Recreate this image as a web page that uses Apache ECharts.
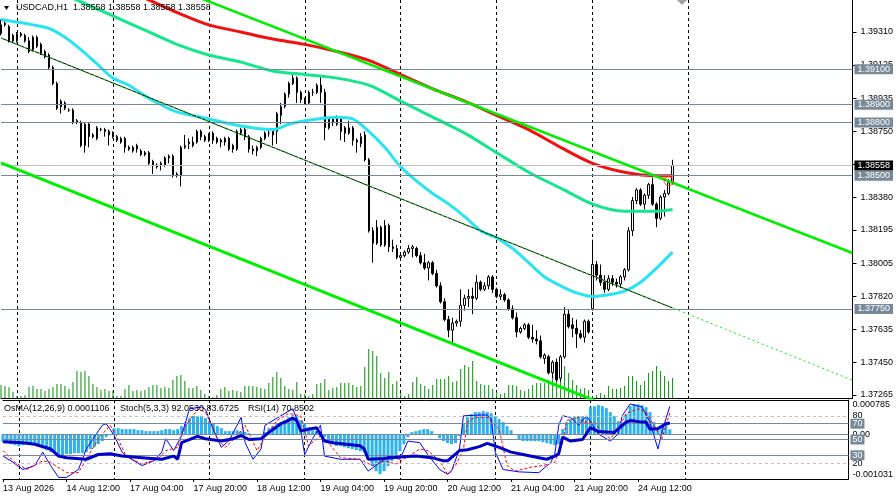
<!DOCTYPE html>
<html><head><meta charset="utf-8">
<script src="https://cdn.jsdelivr.net/npm/echarts@6/dist/echarts.min.js"></script>
<style>html,body{margin:0;padding:0;background:#fff}#c{width:896px;height:502px}</style>
</head><body><div id="c"></div>
<script>
// ---------- data ----------
const dayNames = ['13 Aug','14 Aug','17 Aug','18 Aug','19 Aug','20 Aug','21 Aug','24 Aug','25 Aug','26 Aug'];
const timeTickLabels = ['13 Aug 2026','14 Aug 12:00','17 Aug 04:00','17 Aug 20:00','18 Aug 12:00','19 Aug 04:00','19 Aug 20:00','20 Aug 12:00','21 Aug 04:00','21 Aug 20:00','24 Aug 12:00'];
const dayLineIdx = [4,28,52,76,100,124,148,172];
const priceTicks = [1.37265,1.37450,1.37635,1.37820,1.38005,1.38195,1.38380,1.38565,1.38750,1.38935,1.39125,1.39310];
const priceMin = 1.37248, priceMax = 1.39490;
const levelPrices = [1.39100,1.38900,1.38800,1.38500,1.37750];
const lastPrice = 1.38558;
const osmaMin = -0.001031, osmaMax = 0.000785;
const stochLevelsDashed = [80,20];
const stochLevelsSolid = [70,50,30];

// candles: [open, close, low, high]
const candles = [
[1.3930,1.3935,1.3929,1.3938],[1.3935,1.3936,1.3934,1.3938],[1.3934,1.3926,1.3925,1.3935],[1.3929,1.3926,1.3925,1.3930],[1.3926,1.3930,1.3925,1.3931],
[1.3929,1.3930,1.3928,1.3931],[1.3929,1.3926,1.3925,1.3930],[1.3926,1.3920,1.3919,1.3928],[1.3921,1.3928,1.3920,1.3929],[1.3928,1.3923,1.3922,1.3929],
[1.3924,1.3919,1.3918,1.3925],[1.3920,1.3917,1.3916,1.3921],[1.3918,1.3911,1.3910,1.3919],[1.3911,1.3902,1.3901,1.3912],[1.3902,1.3888,1.3887,1.3903],
[1.3889,1.3892,1.3885,1.3893],[1.3891,1.3888,1.3887,1.3892],[1.3887,1.3887,1.3886,1.3888],[1.3887,1.3880,1.3879,1.3888],[1.3880,1.3881,1.3879,1.3882],
[1.3880,1.3867,1.3866,1.3881],[1.3867,1.3879,1.3863,1.3880],[1.3879,1.3872,1.3866,1.3880],[1.3873,1.3872,1.3871,1.3874],[1.3871,1.3877,1.3870,1.3878],
[1.3876,1.3876,1.3875,1.3877],[1.3876,1.3875,1.3872,1.3877],[1.3875,1.3873,1.3867,1.3876],[1.3874,1.3872,1.3871,1.3875],[1.3872,1.3870,1.3869,1.3873],
[1.3869,1.3871,1.3868,1.3872],[1.3871,1.3866,1.3863,1.3872],[1.3866,1.3865,1.3864,1.3867],[1.3864,1.3866,1.3863,1.3867],[1.3865,1.3867,1.3863,1.3868],
[1.3864,1.3862,1.3861,1.3865],[1.3863,1.3862,1.3861,1.3864],[1.3863,1.3857,1.3856,1.3864],[1.3858,1.3856,1.3851,1.3859],[1.3855,1.3856,1.3854,1.3857],
[1.3856,1.3857,1.3853,1.3858],[1.3856,1.3860,1.3855,1.3861],[1.3860,1.3861,1.3857,1.3862],[1.3861,1.3850,1.3849,1.3862],[1.3850,1.3851,1.3849,1.3852],
[1.3850,1.3866,1.3844,1.3867],[1.3866,1.3867,1.3865,1.3873],[1.3868,1.3869,1.3865,1.3871],[1.3867,1.3869,1.3866,1.3872],[1.3869,1.3875,1.3868,1.3876],
[1.3875,1.3872,1.3870,1.3876],[1.3872,1.3870,1.3869,1.3873],[1.3870,1.3873,1.3869,1.3874],[1.3870,1.3874,1.3868,1.3875],[1.3871,1.3869,1.3868,1.3872],
[1.3870,1.3869,1.3866,1.3871],[1.3869,1.3871,1.3867,1.3872],[1.3871,1.3865,1.3864,1.3872],[1.3867,1.3865,1.3863,1.3868],[1.3865,1.3875,1.3864,1.3876],
[1.3874,1.3876,1.3873,1.3877],[1.3876,1.3872,1.3870,1.3878],[1.3872,1.3865,1.3863,1.3873],[1.3865,1.3864,1.3862,1.3867],[1.3864,1.3866,1.3861,1.3867],
[1.3866,1.3871,1.3865,1.3872],[1.3871,1.3874,1.3870,1.3875],[1.3874,1.3874,1.3872,1.3876],[1.3873,1.3875,1.3867,1.3876],[1.3875,1.3885,1.3868,1.3886],
[1.3884,1.3889,1.3879,1.3891],[1.3889,1.3896,1.3888,1.3897],[1.3896,1.3902,1.3894,1.3903],[1.3902,1.3905,1.3901,1.3907],[1.3905,1.3897,1.3891,1.3906],
[1.3897,1.3893,1.3891,1.3898],[1.3893,1.3891,1.3890,1.3894],[1.3891,1.3897,1.3890,1.3898],[1.3897,1.3897,1.3895,1.3899],[1.3897,1.3901,1.3896,1.3902],
[1.3901,1.3897,1.3891,1.3906],[1.3897,1.3877,1.3870,1.3899],[1.3877,1.3882,1.3876,1.3883],[1.3882,1.3880,1.3878,1.3883],[1.3879,1.3882,1.3878,1.3884],
[1.3882,1.3875,1.3870,1.3883],[1.3877,1.3874,1.3869,1.3878],[1.3874,1.3877,1.3873,1.3881],[1.3877,1.3870,1.3867,1.3878],[1.3870,1.3869,1.3863,1.3871],
[1.3868,1.3872,1.3866,1.3874],[1.3873,1.3859,1.3858,1.3875],[1.3859,1.3819,1.3818,1.3860],[1.3819,1.3812,1.3801,1.3821],[1.3812,1.3821,1.3811,1.3825],
[1.3821,1.3811,1.3810,1.3822],[1.3811,1.3822,1.3810,1.3825],[1.3822,1.3810,1.3807,1.3823],[1.3810,1.3809,1.3807,1.3814],[1.3809,1.3804,1.3803,1.3811],
[1.3804,1.3805,1.3802,1.3807],[1.3805,1.3807,1.3804,1.3808],[1.3807,1.3809,1.3806,1.3811],[1.3809,1.3810,1.3804,1.3811],[1.3809,1.3805,1.3804,1.3810],
[1.3805,1.3801,1.3800,1.3807],[1.3801,1.3798,1.3797,1.3806],[1.3798,1.3801,1.3791,1.3802],[1.3801,1.3795,1.3794,1.3802],[1.3795,1.3788,1.3787,1.3797],
[1.3788,1.3779,1.3778,1.3790],[1.3779,1.3769,1.3768,1.3781],[1.3769,1.3763,1.3759,1.3771],[1.3763,1.3767,1.3756,1.3770],[1.3767,1.3768,1.3765,1.3769],
[1.3768,1.3777,1.3765,1.3786],[1.3777,1.3781,1.3774,1.3783],[1.3781,1.3782,1.3776,1.3786],[1.3782,1.3781,1.3772,1.3787],[1.3781,1.3790,1.3780,1.3794],
[1.3790,1.3786,1.3785,1.3791],[1.3786,1.3788,1.3785,1.3790],[1.3788,1.3793,1.3786,1.3794],[1.3793,1.3786,1.3784,1.3794],[1.3786,1.3782,1.3781,1.3787],
[1.3782,1.3783,1.3780,1.3786],[1.3783,1.3780,1.3779,1.3784],[1.3780,1.3775,1.3774,1.3781],[1.3775,1.3770,1.3769,1.3777],[1.3770,1.3762,1.3759,1.3773],
[1.3762,1.3764,1.3761,1.3765],[1.3764,1.3766,1.3763,1.3767],[1.3766,1.3759,1.3758,1.3767],[1.3759,1.3758,1.3756,1.3766],[1.3758,1.3757,1.3755,1.3763],
[1.3757,1.3748,1.3747,1.3760],[1.3747,1.3749,1.3744,1.3750],[1.3748,1.3739,1.3738,1.3749],[1.3739,1.3745,1.3736,1.3746],[1.3745,1.3735,1.3734,1.3747],
[1.3736,1.3748,1.3734,1.3749],[1.3748,1.3772,1.3747,1.3776],[1.3772,1.3765,1.3764,1.3775],[1.3766,1.3764,1.3759,1.3770],[1.3764,1.3761,1.3753,1.3769],
[1.3761,1.3759,1.3758,1.3763],[1.3759,1.3768,1.3756,1.3769],[1.3768,1.3762,1.3761,1.3769],[1.3775,1.3800,1.3774,1.3814],[1.3800,1.3794,1.3791,1.3802],
[1.3794,1.3790,1.3788,1.3800],[1.3790,1.3786,1.3784,1.3794],[1.3786,1.3792,1.3785,1.3794],[1.3792,1.3790,1.3788,1.3794],[1.3790,1.3789,1.3787,1.3792],
[1.3789,1.3793,1.3787,1.3794],[1.3793,1.3797,1.3791,1.3798],[1.3797,1.3819,1.3796,1.3821],[1.3819,1.3836,1.3816,1.3838],[1.3836,1.3842,1.3834,1.3843],
[1.3842,1.3834,1.3833,1.3843],[1.3834,1.3839,1.3831,1.3840],[1.3839,1.3845,1.3837,1.3846],[1.3845,1.3834,1.3833,1.3849],[1.3834,1.3826,1.3821,1.3835],
[1.3826,1.3838,1.3825,1.3839],[1.3838,1.3840,1.3827,1.3842],[1.3840,1.3846,1.3839,1.3848],[1.3846,1.38558,1.3845,1.3859]
];

// tick volume (hundreds of ticks)
const volumes = [13,12,11,6,2,2,3,11,12,9, 9,7,9,11,14,14,12,9,16,27, 26,27,22,14,11,8,9,7,7,2, 2,9,13,7,8,7,8,11,13,13,
 10,11,10,18,22,23,17,10,10,12, 8,4,2,1,3,9,11,7,8,7, 6,12,12,12,11,10,9,15,21,26, 20,12,9,8,16,4,4,2,4,14,
 15,19,8,10,11,15,15,15,13,11, 12,31,49,47,42,25,20,26,14,17, 5,2,4,16,21,14,12,9,13,19, 19,19,22,16,17,29,33,31,37,17,
 14,13,13,9,6,4,5,13,13,12, 8,7,9,13,15,15,15,18,22,22, 27,32,25,18,13,9,10,8,2,3, 5,3,12,9,9,10,12,22,22,17,
 13,17,25,27,32,27,22,17,20];
const volumeAxisMax = 398;

// moving averages [bar, price]
const maRed = [[20,1.3964],[28,1.3957],[36,1.3950],[44,1.3942],[52,1.3935],[60,1.3931],[68,1.3927],[76,1.3924],[84,1.3920],[92,1.3915],[100,1.3907],[108,1.3899],[116,1.3892],[124,1.3884],[132,1.3876],[140,1.3866],[148,1.3857],[156,1.3852],[164,1.3850],[168,1.3850]];
const maGreen = [[12,1.3956],[20,1.3948],[28,1.3940],[36,1.3932],[44,1.3924],[52,1.3918],[60,1.3914],[68,1.3909],[76,1.3907],[84,1.3905],[92,1.3901],[100,1.3892],[108,1.3883],[116,1.3874],[124,1.3863],[132,1.3852],[140,1.3843],[148,1.3834],[156,1.3830],[164,1.3830],[168,1.3831]];
const maCyan = [[0,1.3938],[8,1.3935],[12,1.3933],[16,1.3928],[20,1.3921],[24,1.3913],[28,1.3905],[32,1.3901],[36,1.3895],[40,1.3890],[44,1.3886],[52,1.3882],[60,1.3878],[68,1.3876],[72,1.3879],[76,1.3881],[84,1.3883],[88,1.3882],[92,1.3875],[96,1.3866],[100,1.3855],[104,1.3847],[108,1.3840],[112,1.3834],[116,1.3827],[120,1.3819],[124,1.3815],[128,1.3809],[132,1.3801],[136,1.3793],[140,1.3788],[144,1.3784],[148,1.3782],[152,1.3783],[156,1.3785],[160,1.3790],[164,1.3798],[168,1.3807]];

// trend lines [bar, price]
const trendUpper = [[0,1.39939],[213,1.38065]];
const trendLower = [[0,1.38572],[213,1.36652]];
const trendMidSolid = [[0,1.39276],[168,1.37755]];
const trendMidDotted = [[0,1.39276],[213,1.37348]];
const circleMark = [[167,1.3847]];

// OsMA(12,26,9)
const osma = [
-1.84e-4,-2.07e-4,-2.30e-4,-2.53e-4,-2.76e-4,-2.53e-4,-2.30e-4,-2.30e-4,-2.53e-4,-2.76e-4,
-3.22e-4,-3.68e-4,-4.14e-4,-4.37e-4,-4.83e-4,-4.83e-4,-4.60e-4,-4.60e-4,-4.37e-4,-4.37e-4,
-4.37e-4,-4.14e-4,-3.45e-4,-2.99e-4,-2.30e-4,-1.61e-4,-0.69e-4,-0.23e-4,1.38e-4,1.38e-4,
1.15e-4,1.15e-4,1.15e-4,1.15e-4,0.92e-4,0.92e-4,0.69e-4,0.69e-4,0.69e-4,0.69e-4,
0.92e-4,1.15e-4,1.15e-4,0.92e-4,1.15e-4,1.84e-4,2.76e-4,3.68e-4,4.14e-4,4.14e-4,
4.14e-4,3.68e-4,2.99e-4,2.53e-4,1.84e-4,1.38e-4,0.69e-4,0.69e-4,0.69e-4,0.92e-4,
0.69e-4,0.46e-4,0.23e-4,0.05e-4,-0.23e-4,0.05e-4,0.46e-4,1.38e-4,1.84e-4,2.30e-4,
2.76e-4,3.22e-4,3.91e-4,4.37e-4,4.14e-4,3.22e-4,2.30e-4,1.61e-4,0.92e-4,0.69e-4,
0.46e-4,-0.69e-4,-1.84e-4,-2.30e-4,-2.76e-4,-2.76e-4,-2.99e-4,-3.22e-4,-3.45e-4,-3.68e-4,
-3.91e-4,-4.14e-4,-5.29e-4,-7.36e-4,-8.51e-4,-9.20e-4,-8.51e-4,-7.36e-4,-6.21e-4,-5.06e-4,
-3.91e-4,-2.30e-4,-0.69e-4,0.46e-4,0.69e-4,0.92e-4,1.15e-4,1.15e-4,0.69e-4,0.05e-4,
-0.92e-4,-1.61e-4,-2.07e-4,-2.30e-4,-2.07e-4,-0.46e-4,2.30e-4,3.91e-4,4.60e-4,5.06e-4,
5.06e-4,5.29e-4,5.06e-4,4.83e-4,4.14e-4,3.45e-4,2.76e-4,1.84e-4,0.92e-4,-0.23e-4,
-1.15e-4,-1.61e-4,-1.61e-4,-1.61e-4,-1.61e-4,-1.61e-4,-1.84e-4,-2.07e-4,-2.30e-4,-2.53e-4,
-2.30e-4,1.15e-4,2.76e-4,3.45e-4,3.91e-4,4.14e-4,4.14e-4,4.14e-4,6.21e-4,6.44e-4,
6.67e-4,6.44e-4,5.98e-4,5.06e-4,4.14e-4,2.99e-4,2.76e-4,4.60e-4,6.44e-4,6.90e-4,
6.90e-4,6.67e-4,6.21e-4,5.06e-4,2.76e-4,1.15e-4,1.84e-4,2.30e-4,1.106e-4];

// Stochastic(5,3,3) and RSI(14) [bar, value]
const stochMain = [[0,29],[2,23],[5,12],[8,17],[10,34],[12,17],[14,2],[16,2],[19,12],[21,38],[25,68],[26,70],[28,55],[30,34],[31,29],[35,17],[38,23],[40,34],[41,51],[43,36],[45,55],[46,72],[47,89],[50,91],[51,88],[53,63],[55,40],[57,49],[60,78],[61,46],[63,25],[65,38],[66,68],[70,80],[73,89],[75,63],[76,31],[78,51],[80,68],[81,29],[85,25],[90,25],[92,10],[95,21],[97,29],[100,25],[102,48],[105,46],[107,31],[110,12],[112,6],[113,10],[115,38],[116,80],[120,81],[122,81],[123,76],[124,34],[126,12],[130,9],[135,8],[138,21],[139,31],[140,68],[141,80],[143,78],[145,68],[147,80],[150,57],[153,48],[155,57],[156,80],[158,95],[161,91],[163,72],[165,38],[166,59],[167,76],[168,92.0530]];
const stochSignal = [[0,36],[3,21],[6,12],[10,23],[12,21],[16,8],[19,8],[21,25],[24,51],[27,68],[29,51],[31,29],[35,19],[39,25],[41,36],[44,40],[46,68],[49,88],[51,85],[54,51],[56,40],[59,55],[61,68],[64,36],[66,53],[69,74],[72,83],[75,80],[77,42],[80,55],[82,46],[85,27],[90,25],[93,17],[96,23],[99,19],[101,25],[105,38],[107,36],[110,23],[112,6],[114,17],[116,38],[117,72],[119,78],[122,78],[125,63],[127,17],[129,10],[133,15],[136,17],[139,21],[141,46],[142,74],[145,78],[146,72],[149,72],[151,59],[153,51],[155,63],[157,83],[160,89],[162,85],[165,59],[166,51],[168,83.6725]];
const rsi = [[0,47],[5,46],[8,44],[12,38],[14,29],[16,27],[21,25],[24,31],[27,32],[30,29],[35,27],[40,25],[43,29],[44,25],[45,46],[49,54],[51,51],[55,48],[58,51],[60,55],[62,50],[65,51],[67,59],[70,70],[71,72],[73,77],[74,74],[75,61],[77,63],[79,65],[81,48],[83,46],[90,42],[91,38],[92,25],[96,26],[100,28],[104,29],[108,27],[111,23],[112,23],[115,36],[117,37],[120,41],[122,45],[125,40],[128,34],[131,31],[135,27],[137,25],[139,29],[140,32],[141,53],[143,48],[146,50],[148,65],[150,60],[154,59],[157,72],[158,74],[161,72],[162,72],[163,63],[165,64],[167,70],[168,70.8502]];

// ---------- categories (hourly bars, weekend skipped) ----------
const cats = [];
dayNames.forEach((d, k) => { for (let h = (k === 0 ? 20 : 0); h < 24; h++) cats.push(d + ' ' + String(h).padStart(2, '0') + ':00'); });
cats.length = 214;

const FONT = '"Liberation Sans", Arial, sans-serif';
const tickFn = (i) => i % 16 === 0 && i <= 160;
const dayFn = (i) => dayLineIdx.indexOf(i) >= 0;
const dashed = { show: true, interval: dayFn, lineStyle: { color: '#000', type: [3, 3], width: 1 } };
const axisBlack = { show: true, onZero: false, lineStyle: { color: '#000', width: 1 } };
const lbl = { color: '#000', fontSize: 9, fontFamily: FONT };

const chart = echarts.init(document.getElementById('c'), null, { renderer: 'canvas' });
const last = candles[candles.length - 1];
chart.setOption({
  animation: false,
  backgroundColor: '#fff',
  textStyle: { fontFamily: FONT },
  grid: [
    { left: 1, right: 43, top: 0, height: 398 },
    { left: 1, right: 43, top: 400, height: 79 }
  ],
  xAxis: [
    { gridIndex: 0, type: 'category', data: cats, boundaryGap: false, axisLine: axisBlack, axisTick: { show: false }, axisLabel: { show: false }, splitLine: dashed },
    { gridIndex: 1, type: 'category', data: cats, boundaryGap: false, axisLine: axisBlack,
      axisTick: { show: true, interval: tickFn, length: 3, lineStyle: { color: '#000' } },
      axisLabel: Object.assign({ show: true, interval: tickFn, align: 'left', margin: 5, formatter: (v, i) => timeTickLabels[i / 16] }, lbl),
      splitLine: dashed },
    { gridIndex: 1, type: 'category', data: cats, boundaryGap: false, position: 'top', axisLine: axisBlack, axisTick: { show: false }, axisLabel: { show: false }, splitLine: { show: false } }
  ],
  yAxis: [
    { gridIndex: 0, type: 'value', position: 'right', min: priceMin, max: priceMax, axisLine: axisBlack,
      axisTick: { show: true, customValues: priceTicks, length: 4, lineStyle: { color: '#000' } },
      axisLabel: Object.assign({ customValues: priceTicks, margin: 8, formatter: v => v.toFixed(5) }, lbl),
      splitLine: { show: false } },
    { gridIndex: 0, type: 'value', min: 0, max: volumeAxisMax, show: false },
    { gridIndex: 1, type: 'value', position: 'right', min: 0, max: 100, axisLine: axisBlack, axisTick: { show: false },
      axisLabel: Object.assign({ customValues: stochLevelsDashed, margin: 4 }, lbl), splitLine: { show: false } },
    { gridIndex: 1, type: 'value', position: 'right', min: osmaMin, max: osmaMax, axisLine: { show: false }, axisTick: { show: false },
      axisLabel: Object.assign({ customValues: [0], margin: 4, formatter: () => '0.00' }, lbl), splitLine: { show: false } },
    { gridIndex: 1, type: 'value', position: 'right', min: osmaMin, max: osmaMax, axisLine: { show: false }, axisTick: { show: false },
      axisLabel: Object.assign({ customValues: [osmaMax], margin: 4, verticalAlign: 'top', formatter: v => v.toFixed(6) }, lbl), splitLine: { show: false } },
    { gridIndex: 1, type: 'value', position: 'right', min: osmaMin, max: osmaMax, axisLine: { show: false }, axisTick: { show: false },
      axisLabel: Object.assign({ customValues: [osmaMin], margin: 4, verticalAlign: 'bottom', formatter: v => v.toFixed(6) }, lbl), splitLine: { show: false } }
  ],
  series: [
    { type: 'bar', name: 'Volume', xAxisIndex: 0, yAxisIndex: 1, data: volumes, barWidth: 1, itemStyle: { color: '#0b8a0b' }, silent: true, z: 1 },
    { type: 'candlestick', name: 'USDCAD', xAxisIndex: 0, yAxisIndex: 0, data: candles, barWidth: 2, z: 3,
      itemStyle: { color: '#fff', color0: '#000', borderColor: '#000', borderColor0: '#000', borderWidth: 1 },
      markLine: {
        silent: true, symbol: 'none', animation: false, precision: 5,
        label: { show: true, position: 'end', formatter: p => p.name, color: '#fff', fontSize: 9, fontFamily: FONT, padding: [1, 3, 0, 3], distance: 2 },
        data: levelPrices.map(v => ({ name: v.toFixed(5), yAxis: v, lineStyle: { color: '#778899', width: 1, type: 'solid' }, label: { backgroundColor: '#778899' } }))
          .concat([{ name: lastPrice.toFixed(5), yAxis: lastPrice, lineStyle: { color: '#c0c0c0', width: 1, type: 'solid' }, label: { backgroundColor: '#000' } }])
      } },
    { type: 'line', name: 'MA red', xAxisIndex: 0, yAxisIndex: 0, data: maRed, smooth: 0.3, showSymbol: false, lineStyle: { color: '#f01010', width: 3 }, z: 4 },
    { type: 'line', name: 'MA green', xAxisIndex: 0, yAxisIndex: 0, data: maGreen, smooth: 0.3, showSymbol: false, lineStyle: { color: '#14e68c', width: 3 }, z: 4 },
    { type: 'line', name: 'MA cyan', xAxisIndex: 0, yAxisIndex: 0, data: maCyan, smooth: 0.3, showSymbol: false, lineStyle: { color: '#28e4f0', width: 3 }, z: 4 },
    { type: 'line', name: 'Trend upper', xAxisIndex: 0, yAxisIndex: 0, data: trendUpper, showSymbol: false, lineStyle: { color: '#00ee00', width: 2.5 }, z: 5 },
    { type: 'line', name: 'Trend lower', xAxisIndex: 0, yAxisIndex: 0, data: trendLower, showSymbol: false, lineStyle: { color: '#00ee00', width: 3 }, z: 5 },
    { type: 'line', name: 'Trend mid', xAxisIndex: 0, yAxisIndex: 0, data: trendMidSolid, showSymbol: false, lineStyle: { color: '#000', width: 1 }, z: 5 },
    { type: 'line', name: 'Trend mid dotted', xAxisIndex: 0, yAxisIndex: 0, data: trendMidDotted, showSymbol: false, lineStyle: { color: '#00ee00', width: 1, type: [2, 3] }, z: 6 },
    { type: 'scatter', name: 'Mark', xAxisIndex: 0, yAxisIndex: 0, data: circleMark, symbol: 'circle', symbolSize: 9, itemStyle: { color: 'rgba(0,0,0,0)', borderColor: '#ff2020', borderWidth: 1 }, z: 7 },
    { type: 'bar', name: 'OsMA', xAxisIndex: 1, yAxisIndex: 3, data: osma, barWidth: 3, itemStyle: { color: '#2ab3f0' }, z: 2,
      markLine: { silent: true, symbol: 'none', animation: false, label: { show: false }, data: [{ yAxis: 0, lineStyle: { color: '#778899', width: 1, type: 'solid' } }] } },
    { type: 'line', name: 'Stoch', xAxisIndex: 1, yAxisIndex: 2, data: stochMain, showSymbol: false, lineStyle: { color: '#0000ff', width: 1 }, z: 4,
      markLine: { silent: true, symbol: 'none', animation: false,
        label: { show: true, position: 'end', formatter: p => p.name, color: '#fff', fontSize: 9, fontFamily: FONT, padding: [1, 2, 0, 2], distance: 2, backgroundColor: '#778899' },
        data: stochLevelsDashed.map(v => ({ yAxis: v, lineStyle: { color: '#c0c0c0', width: 1, type: [3, 3] }, label: { show: false } }))
          .concat(stochLevelsSolid.map(v => ({ name: String(v), yAxis: v, lineStyle: { color: '#778899', width: 1, type: 'solid' } }))) } },
    { type: 'line', name: 'Signal', xAxisIndex: 1, yAxisIndex: 2, data: stochSignal, showSymbol: false, lineStyle: { color: '#ff0000', width: 1, type: [3, 2] }, z: 4 },
    { type: 'line', name: 'RSI', xAxisIndex: 1, yAxisIndex: 2, data: rsi, showSymbol: false, lineStyle: { color: '#0000c8', width: 3 }, z: 5 }
  ],
  graphic: [
    { type: 'polygon', shape: { points: [[4, 6], [9, 6], [6.5, 10]] }, style: { fill: '#000' }, z: 100 },
    { type: 'polygon', shape: { points: [[677, 0], [687, 0], [682, 5]] }, style: { fill: '#a0a0a0' }, z: 100 },
    { type: 'text', x: 16, y: 8, z: 100, style: { text: 'USDCAD,H1  ' + [lastPrice, lastPrice, lastPrice, last[1]].map(v => v.toFixed(5)).join(' '), fill: '#000', font: '9px ' + FONT, verticalAlign: 'middle' } },
    { type: 'text', x: 4, y: 409, z: 100, style: { text: 'OsMA(12,26,9) ' + osma[osma.length - 1].toFixed(7), fill: '#000', font: '9px ' + FONT, verticalAlign: 'middle' } },
    { type: 'text', x: 120, y: 409, z: 100, style: { text: 'Stoch(5,3,3) ' + stochMain[stochMain.length - 1][1].toFixed(4) + ' ' + stochSignal[stochSignal.length - 1][1].toFixed(4), fill: '#000', font: '9px ' + FONT, verticalAlign: 'middle' } },
    { type: 'text', x: 248, y: 409, z: 100, style: { text: 'RSI(14) ' + rsi[rsi.length - 1][1].toFixed(4), fill: '#000', font: '9px ' + FONT, verticalAlign: 'middle' } }
  ]
});
</script>
</body></html>
